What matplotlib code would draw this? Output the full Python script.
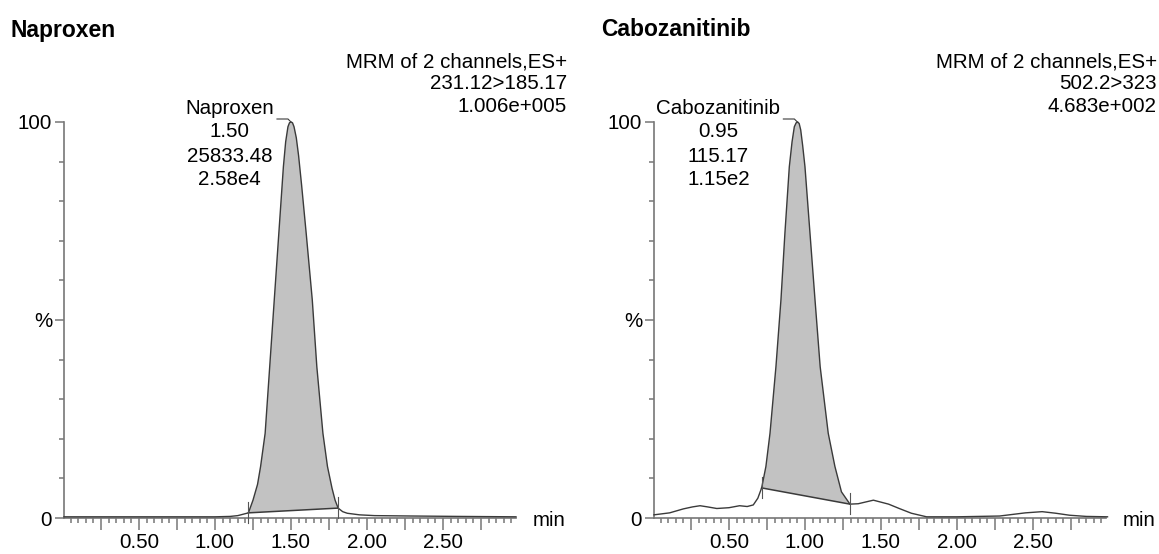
import matplotlib
matplotlib.use("Agg")
import matplotlib.pyplot as plt
from matplotlib.patches import Polygon
from matplotlib.ticker import FixedLocator, MultipleLocator

plt.rcParams['font.family'] = ['Liberation Sans', 'DejaVu Sans']

# ---------------- data ----------------
titles = ["Naproxen", "Cabozanitinib"]
channel_info = [
    ["MRM of 2 channels,ES+", "231.12>185.17", "1.006e+005"],
    ["MRM of 2 channels,ES+", "502.2>323", "4.683e+002"],
]
peak_labels = [
    ["Naproxen", "1.50", "25833.48", "2.58e4"],
    ["Cabozanitinib", "0.95", "115.17", "1.15e2"],
]
apex_times = [1.50, 0.95]

naproxen_t = [0.007, 0.50, 1.00, 1.10, 1.15, 1.18, 1.22, 1.25, 1.28, 1.30, 1.33, 1.36,
              1.39, 1.42, 1.45, 1.465, 1.48, 1.49, 1.50, 1.51, 1.52, 1.535, 1.55, 1.57,
              1.60, 1.64, 1.67, 1.71, 1.74, 1.77, 1.79, 1.81, 1.84, 1.87, 1.95, 2.05,
              2.30, 2.60, 2.98]
naproxen_y = [0.3, 0.3, 0.3, 0.4, 0.6, 0.9, 1.3, 4.5, 8.5, 13.0, 21.4, 38.2,
              55.1, 71.9, 88.7, 95.0, 98.8, 99.8, 100.0, 99.8, 98.8, 96.0, 91.5, 84.0,
              71.9, 55.1, 38.2, 21.4, 13.0, 7.5, 4.5, 2.5, 1.6, 1.2, 0.8, 0.6,
              0.5, 0.4, 0.3]

cabo_t = [0.007, 0.11, 0.20, 0.26, 0.31, 0.36, 0.42, 0.50, 0.57, 0.62, 0.66, 0.69,
          0.715, 0.743, 0.770, 0.809, 0.842, 0.868, 0.897, 0.915, 0.93, 0.942, 0.952,
          0.962, 0.972, 0.985, 1.00, 1.033, 1.066, 1.10, 1.153, 1.197, 1.24, 1.296,
          1.35, 1.45, 1.55, 1.62, 1.70, 1.80, 2.00, 2.28, 2.45, 2.56, 2.65,
          2.74, 2.85, 2.99]
cabo_y = [0.8, 1.3, 2.3, 2.8, 3.1, 2.8, 2.4, 2.6, 3.1, 2.9, 3.3, 5.0,
          7.6, 13.0, 21.4, 38.2, 55.1, 71.9, 88.7, 95.0, 98.8, 99.8, 100.0,
          99.6, 98.0, 94.0, 88.7, 71.9, 55.1, 38.2, 21.4, 13.0, 6.6, 3.5,
          3.6, 4.5, 3.5, 2.4, 1.2, 0.3, 0.3, 0.5, 1.3, 1.6, 1.2,
          0.7, 0.4, 0.3]

# integration baseline (start, end) as (time, %)
naproxen_base = [(1.22, 1.3), (1.81, 2.5)]
cabo_base = [(0.715, 7.6), (1.296, 3.5)]

traces = [(naproxen_t, naproxen_y, naproxen_base), (cabo_t, cabo_y, cabo_base)]

x_major_labeled = [0.50, 1.00, 1.50, 2.00, 2.50]
x_major_unlabeled = [0.25, 0.75, 1.25, 1.75, 2.25, 2.75]
xlim = (0.007, 2.98)

# ---------------- figure ----------------
W, H = 1159, 554
fig = plt.figure(figsize=(W / 100, H / 100), dpi=100)

ax_left_px = [64, 654]
ax_right_px = 516
ax_w_px = ax_right_px - 64
ax_top_px, ax_bot_px = 122, 518

axis_col = '#777777'
line_col = '#3a3a3a'
fs = 14.8

for i in range(2):
    l = ax_left_px[i]
    ax = fig.add_axes([l / W, (H - ax_bot_px) / H, ax_w_px / W, (ax_bot_px - ax_top_px) / H])
    ax.set_xlim(*xlim)
    ax.set_ylim(0, 100)
    for s in ['top', 'right']:
        ax.spines[s].set_visible(False)
    for s in ['left', 'bottom']:
        ax.spines[s].set_color(axis_col)
        ax.spines[s].set_linewidth(1.2)
    ax.patch.set_alpha(0)

    xt = sorted(x_major_labeled + x_major_unlabeled)
    ax.xaxis.set_major_locator(FixedLocator(xt))
    ax.set_xticklabels([f"{v:.2f}" if v in x_major_labeled else "" for v in xt])
    ax.xaxis.set_minor_locator(MultipleLocator(0.05))
    ax.yaxis.set_major_locator(FixedLocator([0, 50, 100]))
    ax.set_yticklabels(['0', '%', '100'])
    ax.yaxis.set_minor_locator(MultipleLocator(10))
    ax.tick_params(axis='x', which='major', length=8.6, width=1.1, color=axis_col,
                   labelsize=fs, pad=2)
    ax.tick_params(axis='x', which='minor', length=3.8, width=1.1, color=axis_col)
    ax.tick_params(axis='y', which='major', length=6.5, width=1.1, color=axis_col,
                   labelsize=fs, pad=2)
    ax.tick_params(axis='y', which='minor', length=3.8, width=1.1, color=axis_col)

    t, y, base = traces[i]
    # filled peak area: curve points between integration start/end, closed by baseline
    (ts, bs), (te, be) = base
    poly = [(ts, bs)] + [(tt, yy) for tt, yy in zip(t, y) if ts < tt < te] + [(te, be)]
    ax.add_patch(Polygon(poly, closed=True, facecolor='#c2c2c2', edgecolor='none',
                         zorder=1, clip_on=False))
    ax.plot(t, y, color=line_col, lw=1.0, zorder=3, clip_on=False)
    ax.plot([ts, te], [bs, be], color=line_col, lw=1.1, zorder=3, clip_on=False)

    # integration tick marks
    fig.canvas.draw()
    tr = ax.transData
    inv = tr.inverted()
    for (bt, bv) in base:
        px, py = tr.transform((bt, bv))
        p1 = inv.transform((px, py - 10))
        p2 = inv.transform((px, py + 11))
        ax.plot([p1[0], p2[0]], [p1[1], p2[1]], color='#555555', lw=0.8,
                zorder=4, clip_on=False)

    # title
    ax.annotate(titles[i], xy=(0, 1), xycoords='axes fraction', xytext=(-53, 92),
                textcoords='offset pixels', ha='left', va='center', fontsize=16.5,
                fontweight='bold')
    # channel info text
    for k, (txt, dy) in enumerate(zip(channel_info[i], [60, 38, 15])):
        ax.annotate(txt, xy=(1, 1), xycoords='axes fraction', xytext=(51, dy),
                    textcoords='offset pixels', ha='right', va='center', fontsize=fs)
    # "min" label
    ax.annotate("min", xy=(1, 0), xycoords='axes fraction', xytext=(17, -3),
                textcoords='offset pixels', ha='left', va='center', fontsize=fs)

    # peak labels
    at = apex_times[i]
    first = ax.annotate(peak_labels[i][0], xy=(at, 100), xycoords='data',
                        xytext=(-17, 13), textcoords='offset pixels',
                        ha='right', va='center', fontsize=fs)
    fig.canvas.draw()
    bb = first.get_window_extent()
    apx, apy = tr.transform((at, 100))
    cx = (bb.x0 + bb.x1) / 2 - apx
    for txt, dy in zip(peak_labels[i][1:], [-10, -35, -58]):
        ax.annotate(txt, xy=(at, 100), xycoords='data', xytext=(cx, dy),
                    textcoords='offset pixels', ha='center', va='center', fontsize=fs)
    # connector
    c1 = inv.transform((bb.x1 + 3, apy + 3))
    c2 = inv.transform((apx - 3, apy + 3))
    ax.plot([c1[0], c2[0], at], [c1[1], c2[1], 100], color=line_col, lw=0.8,
            clip_on=False, zorder=4)

fig.savefig("out.png", dpi=100)
